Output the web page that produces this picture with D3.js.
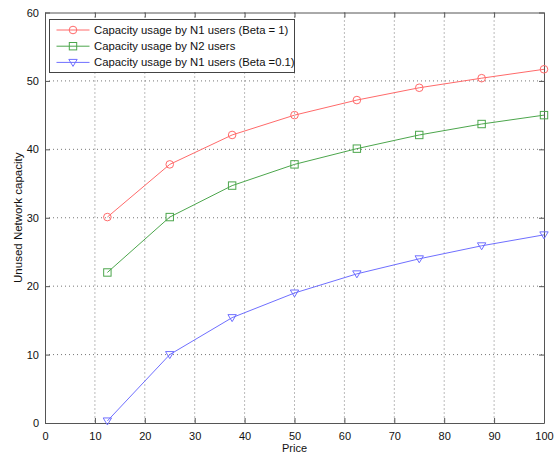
<!DOCTYPE html>
<html>
<head>
<meta charset="utf-8">
<script src="https://cdn.jsdelivr.net/npm/d3@7"></script>
<style>
  body { margin: 0; background: #fff; }
  text { font-family: "Liberation Sans", Arial, sans-serif; }
</style>
</head>
<body>
<div id="chart"></div>
<script>
const prices = [12.5, 25, 37.5, 50, 62.5, 75, 87.5, 100];
const n1Beta1 = [30.1, 37.8, 42.1, 45.0, 47.2, 49.0, 50.4, 51.7];
const n2Users = [22.0, 30.1, 34.7, 37.8, 40.1, 42.1, 43.7, 45.0];
const n1Beta01 = [0.3, 10.0, 15.4, 19.0, 21.8, 24.0, 25.9, 27.5];
const xTicks = [0, 10, 20, 30, 40, 50, 60, 70, 80, 90, 100];
const yTicks = [0, 10, 20, 30, 40, 50, 60];
const seriesNames = [
  "Capacity usage by N1 users (Beta = 1)",
  "Capacity usage by N2 users",
  "Capacity usage by N1 users (Beta =0.1)"
];

const series = [
  { name: seriesNames[0], values: n1Beta1, color: "#ff6a6a", marker: "circle" },
  { name: seriesNames[1], values: n2Users, color: "#4ca64c", marker: "square" },
  { name: seriesNames[2], values: n1Beta01, color: "#6f6fff", marker: "triangle" }
];

// dimensions
const W = 555, H = 457;
const margin = { top: 12.5, right: 11, bottom: 34, left: 45 };
const width = W - margin.left - margin.right;
const height = H - margin.top - margin.bottom;

const svg = d3.select("#chart").append("svg")
  .attr("width", W)
  .attr("height", H);

const g = svg.append("g")
  .attr("transform", `translate(${margin.left},${margin.top})`);

const x = d3.scaleLinear().domain([0, 100]).range([0, width]);
const y = d3.scaleLinear().domain([0, 60]).range([height, 0]);

// grid
g.append("g")
  .selectAll("line")
  .data(xTicks.slice(1, -1))
  .join("line")
  .attr("x1", d => x(d)).attr("x2", d => x(d))
  .attr("y1", 0).attr("y2", height)
  .attr("stroke", "#777").attr("stroke-dasharray", "1,3");

g.append("g")
  .selectAll("line")
  .data(yTicks.slice(1, -1))
  .join("line")
  .attr("y1", d => y(d)).attr("y2", d => y(d))
  .attr("x1", 0).attr("x2", width)
  .attr("stroke", "#777").attr("stroke-dasharray", "1,3");

// axes (MATLAB style box, inward ticks)
const axisColor = "#555";
const bottomAxis = g.append("g")
  .attr("transform", `translate(0,${height})`)
  .call(d3.axisBottom(x).tickValues(xTicks).tickSizeInner(-5).tickSizeOuter(0).tickPadding(9));
const leftAxis = g.append("g")
  .call(d3.axisLeft(y).tickValues(yTicks).tickSizeInner(-5).tickSizeOuter(0).tickPadding(6));
const topAxis = g.append("g")
  .call(d3.axisTop(x).tickValues(xTicks).tickSizeInner(-5).tickSizeOuter(0).tickFormat(""));
const rightAxis = g.append("g")
  .attr("transform", `translate(${width},0)`)
  .call(d3.axisRight(y).tickValues(yTicks).tickSizeInner(-5).tickSizeOuter(0).tickFormat(""));

[bottomAxis, leftAxis, topAxis, rightAxis].forEach(a => {
  a.selectAll("path, line").attr("stroke", axisColor);
  a.selectAll("text").attr("fill", "#111").style("font-size", "11px");
});

// lines + markers
const line = d3.line()
  .x((d, i) => x(prices[i]))
  .y(d => y(d));

function drawMarker(sel, type, color) {
  if (type === "circle") {
    sel.append("circle").attr("r", 3.8)
      .attr("fill", "none").attr("stroke", color);
  } else if (type === "square") {
    sel.append("rect").attr("x", -3.7).attr("y", -3.7)
      .attr("width", 7.4).attr("height", 7.4)
      .attr("fill", "none").attr("stroke", color);
  } else {
    sel.append("path").attr("d", "M-4.2,-3 L4.2,-3 L0,4 Z")
      .attr("fill", "none").attr("stroke", color);
  }
}

series.forEach(s => {
  g.append("path")
    .datum(s.values)
    .attr("d", line)
    .attr("fill", "none")
    .attr("stroke", s.color)
    .attr("stroke-width", 1);

  g.append("g")
    .selectAll("g")
    .data(s.values)
    .join("g")
    .attr("transform", (d, i) => `translate(${x(prices[i])},${y(d)})`)
    .each(function () { drawMarker(d3.select(this), s.marker, s.color); });
});

// axis labels
svg.append("text")
  .attr("x", margin.left + x(50))
  .attr("y", 452)
  .attr("text-anchor", "middle")
  .style("font-size", "11px")
  .attr("fill", "#111")
  .text("Price");

svg.append("text")
  .attr("transform", `translate(22,${margin.top + height / 2}) rotate(-90)`)
  .attr("text-anchor", "middle")
  .style("font-size", "11.5px")
  .attr("fill", "#111")
  .text("Unused Network capacity");

// legend
const legend = svg.append("g").attr("transform", "translate(49.5,19.5)");
legend.append("rect")
  .attr("width", 245).attr("height", 53)
  .attr("fill", "#fff").attr("stroke", "#444");

series.forEach((s, i) => {
  const row = legend.append("g").attr("transform", `translate(0,${10.5 + i * 16.2})`);
  row.append("line")
    .attr("x1", 7).attr("x2", 40)
    .attr("stroke", s.color);
  const m = row.append("g").attr("transform", "translate(23.5,0)");
  drawMarker(m, s.marker, s.color);
  row.append("text")
    .attr("x", 44.5).attr("y", 4)
    .style("font-size", "11.3px")
    .attr("fill", "#111")
    .text(s.name);
});
</script>
</body>
</html>
